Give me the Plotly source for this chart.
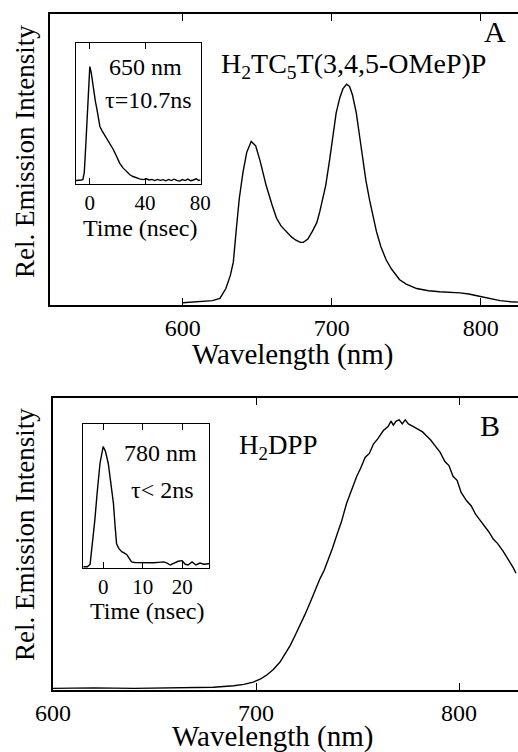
import plotly.graph_objects as go

# ---------------- data ----------------
# Panel A: H2TC5T(3,4,5-OMeP)P emission spectrum
wl_A = [600, 611, 620, 625, 629, 632, 634, 636, 638, 640.5, 643, 646, 649, 652, 656, 660,
        663, 666, 669.5, 673, 676, 679, 681, 684, 687, 690, 692, 694, 696, 698.7, 701, 703,
        705.5, 707.6, 710, 712, 714, 716.5, 718.8, 721, 723, 725.5, 728, 730, 733, 736.6,
        740, 745.6, 750, 757, 765, 772.5, 786, 792, 799, 806, 813, 820, 825]
int_A = [0.005, 0.01, 0.015, 0.025, 0.07, 0.13, 0.19, 0.34, 0.48, 0.60, 0.69, 0.74, 0.72,
         0.65, 0.54, 0.45, 0.39, 0.355, 0.33, 0.305, 0.29, 0.28, 0.28, 0.295, 0.33, 0.37,
         0.42, 0.48, 0.54, 0.66, 0.78, 0.87, 0.94, 0.98, 1.0, 0.99, 0.95, 0.87, 0.76, 0.65,
         0.56, 0.47, 0.39, 0.33, 0.26, 0.20, 0.16, 0.11, 0.09, 0.07, 0.06, 0.055, 0.05,
         0.045, 0.035, 0.025, 0.015, 0.01, 0.008]

# Panel A inset: decay at 650 nm
t_A = [-10, -8, -6, -5, -4, -3, -2, -1, 0, 1, 2, 3, 4, 5, 6, 7.3, 9, 10.5, 12, 14, 17, 19,
       21.7, 24, 26.5, 29, 31.3, 34, 36, 38.5, 41, 43, 45, 47, 49, 51, 53, 55, 57, 59, 61,
       63, 65, 67, 69, 71, 73, 75, 77, 79, 80]
dec_A = [0.01, 0.01, 0.015, 0.02, 0.08, 0.30, 0.55, 0.82, 1.0, 0.95, 0.86, 0.77, 0.70,
         0.64, 0.56, 0.48, 0.44, 0.41, 0.39, 0.34, 0.28, 0.23, 0.16, 0.12, 0.087, 0.06,
         0.045, 0.03, 0.025, 0.018, 0.025, 0.015, 0.02, 0.01, 0.02, 0.012, 0.018, 0.008,
         0.02, 0.01, 0.022, 0.012, 0.005, 0.018, 0.01, 0.022, 0.008, 0.015, 0.025, 0.01,
         0.015]

# Panel B: H2DPP emission spectrum
wl_B = [600, 620, 640, 660, 679, 689, 694, 698.6, 702, 705, 708.5, 711.8, 714, 716.7, 719,
        721.7, 724, 726.6, 729, 731.5, 733.5, 735.6, 737.5, 739.7, 742, 744.6, 747, 749.6,
        751.5, 753.7, 755.8, 757.8, 760, 762.7, 765, 766.5, 767.6, 769, 770.5, 772, 773.5,
        775, 777.5, 780, 782, 784, 786, 788, 790.6, 793, 795, 797, 799, 801, 803.6, 806,
        808, 810, 812, 814.5, 816.9, 819, 821.8, 823.5, 825, 826.7, 828]
int_B = [0.002, 0.004, 0.002, 0.003, 0.006, 0.012, 0.017, 0.025, 0.036, 0.05, 0.072, 0.10,
         0.125, 0.16, 0.195, 0.235, 0.275, 0.32, 0.365, 0.41, 0.44, 0.48, 0.52, 0.57, 0.62,
         0.69, 0.74, 0.79, 0.82, 0.86, 0.875, 0.91, 0.93, 0.96, 0.975, 0.995, 0.98, 0.995,
         1.0, 0.985, 1.0, 0.985, 0.975, 0.965, 0.955, 0.94, 0.925, 0.905, 0.88, 0.845,
         0.83, 0.79, 0.775, 0.73, 0.70, 0.68, 0.65, 0.63, 0.61, 0.585, 0.556, 0.54, 0.51,
         0.49, 0.47, 0.45, 0.43]

# Panel B inset: decay at 780 nm
t_B = [-5, -4, -3.3, -2.7, -2.1, -1.5, -0.8, 0, 0.6, 1.3, 2, 2.6, 3.0, 3.4, 4, 4.7, 5.3,
       6, 6.6, 7.2, 8, 9.4, 11, 12.8, 14, 15.3, 16.2, 17, 17.7, 18.3, 19, 20, 20.8, 21.5,
       22.5, 23.5, 24.5, 25.5, 26.8]
dec_B = [0.0, 0.0, 0.02, 0.2, 0.39, 0.62, 0.86, 1.0, 0.96, 0.86, 0.70, 0.53, 0.35, 0.19,
         0.15, 0.125, 0.115, 0.10, 0.07, 0.04, 0.035, 0.033, 0.035, 0.033, 0.036, 0.04,
         0.03, 0.014, 0.025, 0.033, 0.045, 0.05, 0.02, 0.014, 0.04, 0.014, 0.03, 0.02, 0.025]

wl_ticks_A = [600, 700, 800]
wl_ticks_B = [600, 700, 800]
t_ticks_A = [0, 40, 80]
t_ticks_B = [0, 10, 20]

# ---------------- figure ----------------
W, H = 518, 752
FONT = "Liberation Serif"


def px(x):
    return x / W


def py(y):
    return 1 - y / H


line = dict(color="black", width=1.4)
fig = go.Figure()
fig.add_trace(go.Scatter(x=wl_A, y=int_A, mode="lines", line=line, xaxis="x", yaxis="y"))
fig.add_trace(go.Scatter(x=t_A, y=dec_A, mode="lines", line=line, xaxis="x2", yaxis="y2"))
fig.add_trace(go.Scatter(x=wl_B, y=int_B, mode="lines", line=line, xaxis="x3", yaxis="y3"))
fig.add_trace(go.Scatter(x=t_B, y=dec_B, mode="lines", line=line, xaxis="x4", yaxis="y4"))

main_x = dict(showline=True, linecolor="black", linewidth=1.6, mirror="ticks",
              ticks="inside", ticklen=7, tickwidth=1, tickcolor="black",
              showgrid=False, zeroline=False, automargin=False,
              tickfont=dict(family=FONT, size=24, color="black"))
main_y = dict(showline=True, linecolor="black", linewidth=1.6, showticklabels=False,
              ticks="", showgrid=False, zeroline=False, automargin=False)
ins_x = dict(showline=True, linecolor="black", linewidth=1.2, mirror="ticks",
             ticks="inside", ticklen=6, tickwidth=1, tickcolor="black",
             showgrid=False, zeroline=False, automargin=False,
             tickfont=dict(family=FONT, size=21, color="black"))
ins_y = dict(showline=True, linecolor="black", linewidth=1.2, mirror=True,
             showticklabels=False, ticks="", showgrid=False, zeroline=False,
             automargin=False)

fig.update_layout(
    width=W, height=H, margin=dict(l=0, r=0, t=0, b=0, autoexpand=False),
    paper_bgcolor="white", plot_bgcolor="rgba(0,0,0,0)", showlegend=False,
    xaxis=dict(main_x, domain=[px(50), 1.0], range=[511, 825], tickvals=wl_ticks_A, anchor="y"),
    yaxis=dict(main_y, domain=[py(305), py(14)], range=[-0.005, 1.32], anchor="x"),
    xaxis2=dict(ins_x, domain=[px(76), px(201)], range=[-10, 80.5], tickvals=t_ticks_A, anchor="y2"),
    yaxis2=dict(ins_y, domain=[py(184), py(43)], range=[-0.02, 1.205], anchor="x2"),
    xaxis3=dict(main_x, domain=[px(53), 1.0], range=[600, 829], tickvals=wl_ticks_B, anchor="y3"),
    yaxis3=dict(main_y, domain=[py(690), py(398)], range=[-0.004, 1.081], anchor="x3"),
    xaxis4=dict(ins_x, domain=[px(83), px(209)], range=[-5.1, 26.8], tickvals=t_ticks_B, anchor="y4"),
    yaxis4=dict(ins_y, domain=[py(568), py(424)], range=[-0.011, 1.189], anchor="x4"),
)


def ann(text, x, y, size, angle=0, xanchor="center"):
    fig.add_annotation(text=text, x=px(x), y=py(y), xref="paper", yref="paper",
                       showarrow=False, xanchor=xanchor, yanchor="middle", textangle=angle,
                       font=dict(family=FONT, size=size, color="black"))


# Panel A texts
ann("Rel. Emission Intensity", 25, 152, 27, angle=-90)
ann("Wavelength (nm)", 292, 355, 29)
ann("A", 495, 32, 30)
ann("H<sub>2</sub>TC<sub>5</sub>T(3,4,5-OMeP)P", 219, 66, 28, xanchor="left")
ann("650 nm", 145, 67, 24)
ann("τ=10.7ns", 148, 100, 24)
ann("Time (nsec)", 140, 228, 24)

# Panel B texts
ann("Rel. Emission Intensity", 25, 535, 27, angle=-90)
ann("Wavelength (nm)", 272, 736, 29)
ann("B", 490, 425, 30)
ann("H<sub>2</sub>DPP", 237, 447, 27, xanchor="left")
ann("780 nm", 160, 453, 24)
ann("τ< 2ns", 162, 490, 24)
ann("Time (nsec)", 147, 611, 24)

fig.write_html("out.html", config={"displayModeBar": False},
               post_script="document.body.style.margin='0px';")
